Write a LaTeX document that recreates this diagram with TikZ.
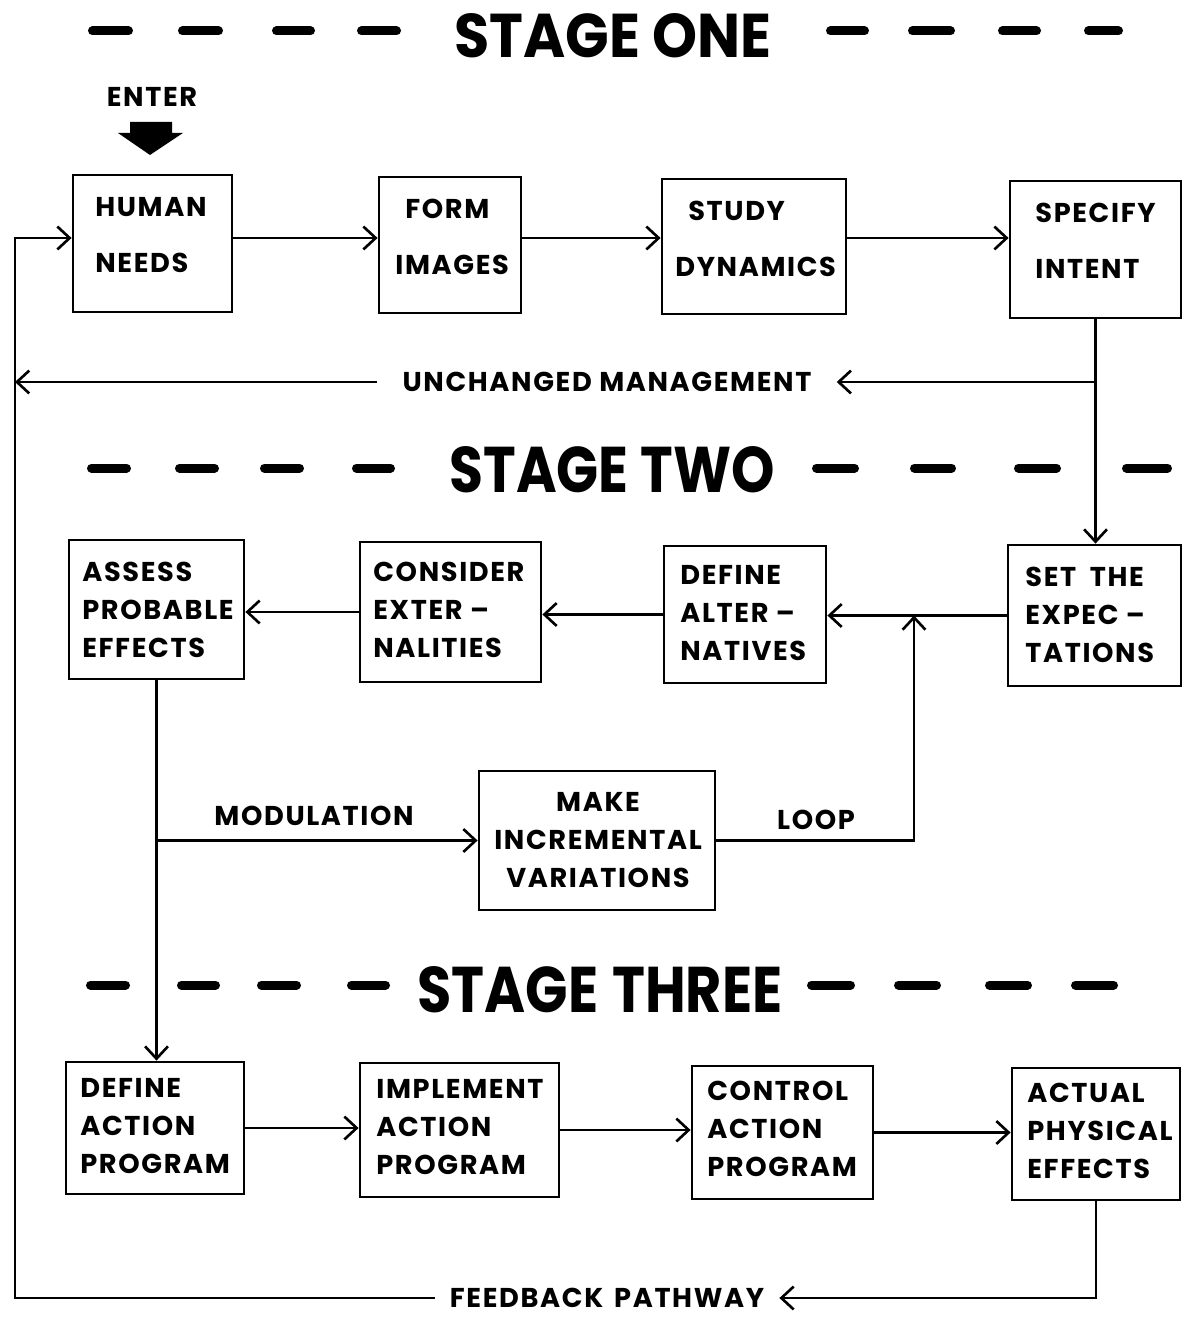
\documentclass[tikz,border=0pt]{standalone}
\usepackage{fontspec}
\usepackage{graphicx}
\setmainfont{Poppins}
\newfontfamily\bxfont[LetterSpace=6]{Poppins}
\usetikzlibrary{arrows.meta,fit,calc}
\newcommand\lftxt[1]{\begin{tabular}{@{}l@{}}#1\end{tabular}}
\newcommand\ctrtxt[1]{\begin{tabular}{@{}c@{}}#1\end{tabular}}
\tikzset{
  frame/.style={draw, line width=1.6pt, inner sep=0pt},
  btxt/.style={inner sep=0pt, anchor=west,
    font=\bxfont\bfseries\fontsize{15.5}{21.7}\selectfont},
  btxtone/.style={btxt, font=\bxfont\bfseries\fontsize{15.5}{32}\selectfont},
  conn/.style={line width=1.3pt},
  arr/.style={conn, -{Straight Barb[length=7pt,width=13pt,line width=1.5pt]}},
  lbl/.style={font=\bxfont\bfseries\fontsize{15.5}{18}\selectfont, inner ysep=0pt, inner xsep=2pt},
  dashbar/.style={line width=0.18cm, line cap=round},
  hdr/.style={inner sep=0pt}
}
\begin{document}
\begin{tikzpicture}[x=0.02cm,y=-0.02cm]
\useasboundingbox (0,0) rectangle (1183,1317);

% ---------- headers ----------
\node[hdr] (h1) at (613,36) {\resizebox{6.34cm}{0.88cm}{\bfseries STAGE ONE}};
\node[hdr] (h2) at (612,470) {\resizebox{6.5cm}{0.92cm}{\bfseries STAGE TWO}};
\node[hdr] (h3) at (600,990) {\resizebox{7.3cm}{0.92cm}{\bfseries STAGE\hspace{0.25em}THREE}};

\foreach \a/\b in {88/133,178/223,272/315,357/401,826/869,908/955,998/1041,1084/1123}
  \draw[dashbar] (\a+4.5,31) -- (\b-4.5,31);
\foreach \a/\b in {87/131,175/219,260/304,352/395,812/859,910/956,1014/1061,1122/1172}
  \draw[dashbar] (\a+4.5,468) -- (\b-4.5,468);
\foreach \a/\b in {86/130,177/220,257/301,347/390,807/855,894/941,985/1032,1071/1118}
  \draw[dashbar] (\a+4.5,985) -- (\b-4.5,985);

% ---------- enter ----------
\node[lbl] (enter) at (152,97) {ENTER};
\fill (130,122) -- (172,122) -- (172,133) -- (183,133) -- (150,155) -- (118,133) -- (130,133) -- cycle;

% ---------- stage one boxes ----------
\node[frame, fit={(73,175) (232,312)}] (hn) {};
\node[btxtone] (hn-t) at (95,233) {\lftxt{HUMAN\\NEEDS}};
\node[frame, fit={(379,177) (521,313)}] (fi) {};
\node[btxtone] (fi-t) at (395,235) {\lftxt{\hspace{0.2cm}FORM\\IMAGES}};
\node[frame, fit={(662,179) (846,314)}] (sd) {};
\node[btxtone] (sd-t) at (675,237) {\lftxt{\hspace{0.26cm}STUDY\\DYNAMICS}};
\node[frame, fit={(1010,181) (1181,318)}] (si) {};
\node[btxtone] (si-t) at (1035,239) {\lftxt{SPECIFY\\INTENT}};

% ---------- stage two boxes ----------
\node[frame, fit={(1008,545) (1181,686)}] (se) {};
\node[btxt] (se-t) at (1025,617) {\lftxt{SET\hspace{0.5em}THE\\EXPEC –\\TATIONS}};
\node[frame, fit={(664,546) (826,683)}] (da) {};
\node[btxt] (da-t) at (680,615) {\lftxt{DEFINE\\ALTER –\\NATIVES}};
\node[frame, fit={(360,542) (541,682)}] (ce) {};
\node[btxt] (ce-t) at (373,612) {\lftxt{CONSIDER\\EXTER –\\NALITIES}};
\node[frame, fit={(69,540) (244,679)}] (ap) {};
\node[btxt] (ap-t) at (82,612) {\lftxt{ASSESS\\PROBABLE\\EFFECTS}};
\node[frame, fit={(479,771) (715,910)}] (miv) {};
\node[btxt, anchor=center] (miv-t) at (598,842) {\ctrtxt{MAKE\\INCREMENTAL\\VARIATIONS}};

% ---------- stage three boxes ----------
\node[frame, fit={(66,1062) (244,1194)}] (dap) {};
\node[btxt] (dap-t) at (80,1128) {\lftxt{DEFINE\\ACTION\\PROGRAM}};
\node[frame, fit={(360,1063) (559,1197)}] (iap) {};
\node[btxt] (iap-t) at (376,1129) {\lftxt{IMPLEMENT\\ACTION\\PROGRAM}};
\node[frame, fit={(692,1066) (873,1199)}] (cap) {};
\node[btxt] (cap-t) at (707,1131) {\lftxt{CONTROL\\ACTION\\PROGRAM}};
\node[frame, fit={(1012,1068) (1180,1200)}] (ape) {};
\node[btxt] (ape-t) at (1027,1133) {\lftxt{ACTUAL\\PHYSICAL\\EFFECTS}};

% ---------- labels ----------
\node[lbl, inner xsep=0.5cm] (um) at (607,382) {UNCHANGED MANAGEMENT};
\node[lbl] (mod) at (314,816) {MODULATION};
\node[lbl] (loop) at (816,820) {LOOP};
\node[lbl, inner xsep=0.3cm] (fbt) at (607,1298) {FEEDBACK\hspace{0.4em}PATHWAY};

\coordinate (fbTL) at (15,238);
\coordinate (lp) at (914,0);

% ---------- connectors ----------
\draw[arr] (hn.east |- fbTL) -- (fi.west |- fbTL);
\draw[arr] (fi.east |- fbTL) -- (sd.west |- fbTL);
\draw[arr] (sd.east |- fbTL) -- (si.west |- fbTL);

\draw[arr] (si.south) -- (si.south |- se.north);
\draw[arr] (si.south |- um.east) -- (um.east);
\draw[arr] (um.west) -- (um.west -| fbTL);

\draw[arr] (se.west) -- (se.west -| da.east);
\draw[arr] (da.west) -- (da.west -| ce.east);
\draw[arr] (ce.west) -- (ce.west -| ap.east);

\draw[arr] (miv.east) -| (lp |- se.west);
\draw[arr] (ap.south) -- (ap.south |- dap.north);
\draw[arr] (ap.south |- miv.west) -- (miv.west);

\draw[arr] (dap.east) -- (dap.east -| iap.west);
\draw[arr] (iap.east) -- (iap.east -| cap.west);
\draw[arr] (cap.east) -- (cap.east -| ape.west);

\draw[arr] (ape.south) |- (fbt.east);
\draw[arr] (fbt.west) -| (fbTL) -- (fbTL -| hn.west);
\end{tikzpicture}
\end{document}
